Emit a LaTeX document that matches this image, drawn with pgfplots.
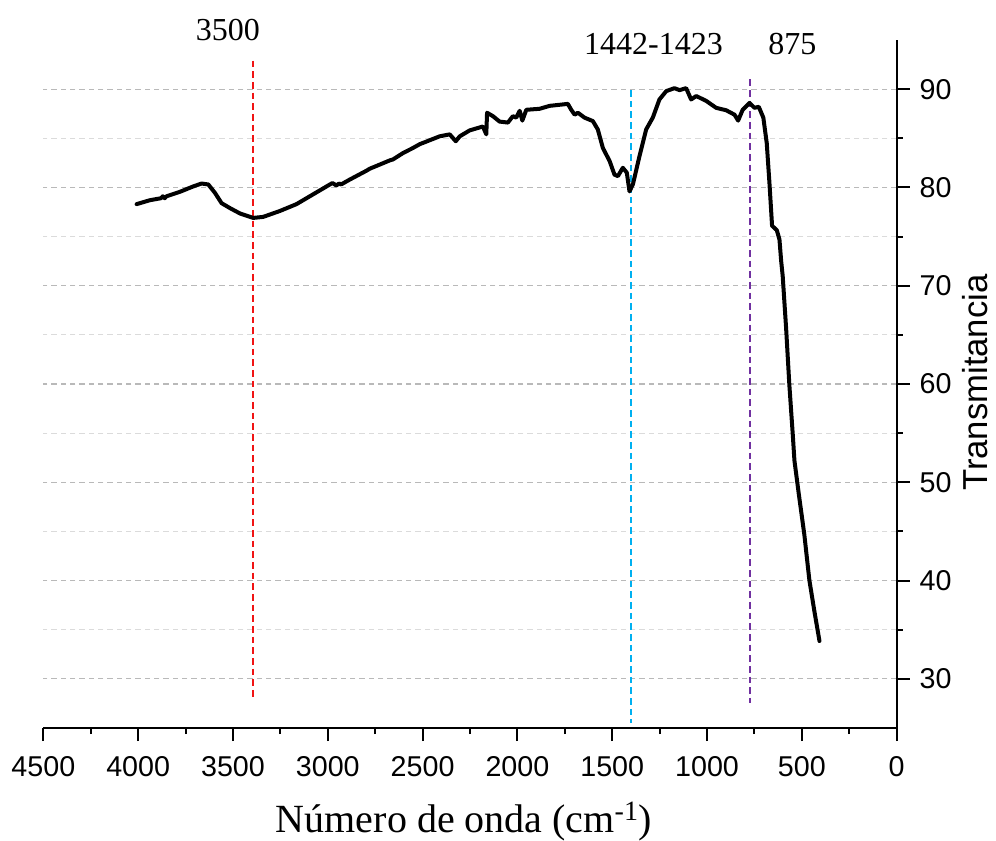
\documentclass[border=0pt]{standalone}
\usepackage{fontspec}
\setmainfont{Liberation Serif}
\newfontfamily\arial{Liberation Sans}
\usepackage{pgfplots}
\pgfplotsset{compat=1.18}
\definecolor{myred}{RGB}{240,20,20}
\definecolor{mycyan}{RGB}{0,176,240}
\definecolor{mypurple}{RGB}{112,48,160}
\begin{document}
\begin{tikzpicture}
\useasboundingbox (-32.5pt,-84pt) rectangle (714.5pt,546pt);
\begin{axis}[
  at={(0,0)}, anchor=south west,
  scale only axis, width=640pt, height=516pt,
  x dir=reverse, xmin=0, xmax=4500, ymin=25, ymax=95,
  axis x line=bottom, axis y line=right,
  axis line style={-, line width=1.5pt, black},
  xtick={0,500,...,4500}, minor xtick={250,750,...,4250},
  ytick={30,40,...,90}, minor ytick={35,45,...,85},
  tick align=outside,
  major tick length=9.75pt, minor tick length=4.5pt,
  every tick/.style={black, line width=1.5pt},
  ymajorgrids=true, yminorgrids=true,
  major grid style={gray!55, line width=0.8pt, dash pattern=on 4pt off 3pt},
  minor grid style={gray!28, line width=0.8pt, dash pattern=on 4pt off 3pt},
  tick label style={font=\arial\fontsize{21.5}{25}\selectfont},
  xticklabel style={yshift=-8pt},
  yticklabel style={xshift=4pt},
  /pgf/number format/assume math mode=true,
  /pgf/number format/1000 sep={},
  xlabel={Número de onda (cm\textsuperscript{-1})},
  xlabel style={font=\fontsize{30}{36}\selectfont, at={(axis description cs:0.493,-0.1526)}, anchor=base},
  ylabel={Transmitancia},
  ylabel style={font=\arial\fontsize{26}{30}\selectfont, at={(axis description cs:1.0915,0.502)}, anchor=center},
  clip=false,
]
\addplot[myred, line width=1.5pt, dash pattern=on 5pt off 3pt] coordinates {(3393,92.9) (3393,28.1)};
\addplot[mycyan, line width=1.5pt, dash pattern=on 5pt off 3pt] coordinates {(1403,89.9) (1403,25.5)};
\addplot[mypurple, line width=1.5pt, dash pattern=on 5pt off 3pt] coordinates {(772,91) (772,27.5)};
\addplot[black, line width=3pt, line join=round, line cap=round] table {
4008 78.3
3938 78.7
3880 78.9
3870 79.1
3860 78.9
3850 79.1
3780 79.55
3710 80.1
3665 80.4
3630 80.3
3595 79.45
3560 78.4
3516 77.9
3463 77.35
3393 76.9
3341 77.0
3253 77.6
3165 78.3
3077 79.3
2989 80.3
2975 80.45
2955 80.2
2940 80.4
2930 80.3
2884 80.8
2796 81.7
2779 81.9
2673 82.75
2656 82.85
2603 83.5
2552 84.0
2515 84.4
2410 85.2
2357 85.4
2325 84.7
2304 85.2
2252 85.8
2182 86.2
2164 85.4
2160 87.6
2129 87.25
2094 86.7
2050 86.6
2024 87.25
2006 87.1
1988 87.8
1974 86.8
1953 87.9
1883 88.0
1830 88.3
1734 88.5
1716 87.9
1698 87.4
1681 87.6
1646 87.1
1602 86.75
1576 85.9
1549 84.0
1514 82.7
1488 81.3
1470 81.15
1444 82.0
1423 81.5
1409 79.6
1391 80.3
1356 83.2
1321 85.9
1286 87.1
1251 88.95
1215 89.8
1172 90.1
1145 89.9
1110 90.1
1084 88.95
1057 89.3
1004 88.8
952 88.1
899 87.85
855 87.4
836 86.8
812 87.9
776 88.6
750 88.1
727 88.2
703 87.1
685 84.5
671 80.5
657 76.1
632 75.65
618 74.7
609 72.5
601 71.0
583 65.7
566 59.95
548 54.9
539 52.2
516 48.8
487 44.7
460 40.0
434 36.9
407 33.85
};
\node[font=\fontsize{24}{28}\selectfont] at (axis cs:3527,96.0) {3500};
\node[font=\fontsize{24}{28}\selectfont] at (axis cs:1282,94.6) {1442-1423};
\node[font=\fontsize{24}{28}\selectfont] at (axis cs:550,94.6) {875};
\end{axis}
\end{tikzpicture}
\end{document}
